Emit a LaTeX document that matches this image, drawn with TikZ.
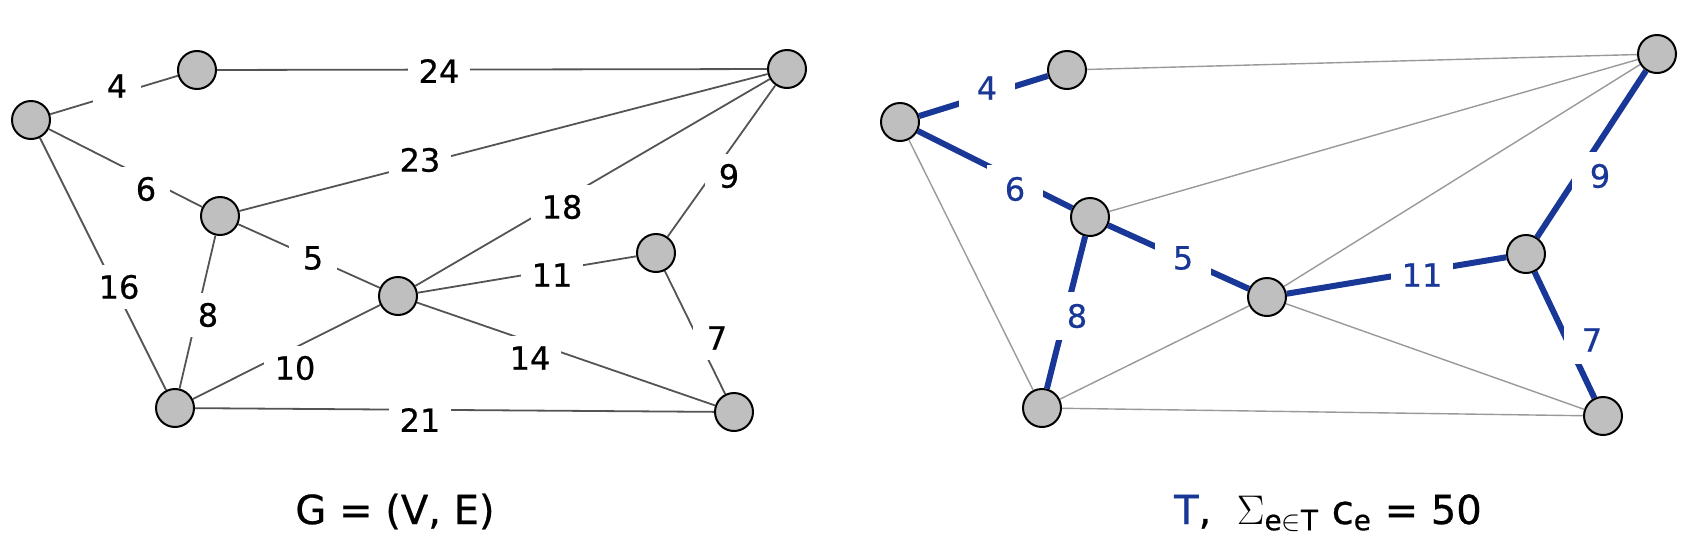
\documentclass[tikz,border=0pt]{standalone}
\usepackage{amsmath}
\usepackage{amssymb}
\usepackage{fontspec}
\setmainfont{DejaVu Sans}[FakeBold=0.6]
\definecolor{treeblue}{RGB}{25,55,150}
\tikzset{
	vertex/.style={circle, draw=black, fill=black!25, line width=1pt, minimum size=19pt, inner sep=0pt},
	edge/.style={draw=black!67, line width=0.9pt},
	faint/.style={draw=black!40, line width=0.7pt},
	treeedge/.style={draw=treeblue, line width=3pt},
	weight/.style={fill=white, inner xsep=5.5pt, inner ysep=5pt, minimum width=24pt, font=\fontsize{16}{19}\selectfont},
	tweight/.style={weight, text=treeblue, inner ysep=6pt, minimum width=28pt},
	caption/.style={anchor=base, inner sep=0pt, font=\fontsize{20}{24}\selectfont},
}

\begin{document}
\begin{tikzpicture}[x=0.5pt,y=-0.5pt]
	\useasboundingbox (0,0) rectangle (1708,552);
	% graph G
	\node[vertex] (a) at (31,120) {};
	\node[vertex] (b) at (197,70) {};
	\node[vertex] (c) at (787,69) {};
	\node[vertex] (d) at (220,216) {};
	\node[vertex] (e) at (398,296) {};
	\node[vertex] (f) at (656,253) {};
	\node[vertex] (g) at (175,408) {};
	\node[vertex] (h) at (734,412) {};
	\draw[edge] (a) -- (b);
	\draw[edge] (b) -- (c);
	\draw[edge] (a) -- (d);
	\draw[edge] (a) -- (g);
	\draw[edge] (d) -- (c);
	\draw[edge] (d) -- (e);
	\draw[edge] (d) -- (g);
	\draw[edge] (e) -- (c);
	\draw[edge] (c) -- (f);
	\draw[edge] (e) -- (f);
	\draw[edge] (f) -- (h);
	\draw[edge] (g) -- (e);
	\draw[edge] (e) -- (h);
	\draw[edge] (g) -- (h);
	% weights
	\node[weight] (w4) at (117,86) {4};
	\node[weight] (w24) at (439,71) {24};
	\node[weight] (w6) at (146,189) {6};
	\node[weight] (w16) at (119,287) {16};
	\node[weight] (w23) at (420,160) {23};
	\node[weight] (w5) at (313,258) {5};
	\node[weight] (w8) at (208,315) {8};
	\node[weight] (w18) at (562,207) {18};
	\node[weight] (w9) at (729,176) {9};
	\node[weight] (w11) at (552,275) {11};
	\node[weight] (w7) at (717,338) {7};
	\node[weight] (w10) at (295,368) {10};
	\node[weight] (w14) at (530,358) {14};
	\node[weight] (w21) at (420,420) {21};
	\node[caption] (gcap) at (395,524) {G = (V, E)};
	% spanning tree T
	\node[vertex] (a2) at (900,122) {};
	\node[vertex] (b2) at (1067,70) {};
	\node[vertex] (c2) at (1657,54) {};
	\node[vertex] (d2) at (1090,217) {};
	\node[vertex] (e2) at (1267,297) {};
	\node[vertex] (f2) at (1526,254) {};
	\node[vertex] (g2) at (1042,408) {};
	\node[vertex] (h2) at (1603,416) {};
	\draw[faint] (b2) -- (c2);
	\draw[faint] (d2) -- (c2);
	\draw[faint] (e2) -- (c2);
	\draw[faint] (a2) -- (g2);
	\draw[faint] (g2) -- (e2);
	\draw[faint] (e2) -- (h2);
	\draw[faint] (g2) -- (h2);
	\draw[treeedge] (a2) -- (b2);
	\draw[treeedge] (a2) -- (d2);
	\draw[treeedge] (d2) -- (e2);
	\draw[treeedge] (d2) -- (g2);
	\draw[treeedge] (e2) -- (f2);
	\draw[treeedge] (c2) -- (f2);
	\draw[treeedge] (f2) -- (h2);
	\node[tweight] (t4) at (987,88) {4};
	\node[tweight] (t6) at (1015,189) {6};
	\node[tweight] (t5) at (1183,258) {5};
	\node[tweight] (t8) at (1077,316) {8};
	\node[tweight] (t11) at (1422,275) {11};
	\node[tweight] (t9) at (1600,176) {9};
	\node[tweight] (t7) at (1592,340) {7};
	\node[caption] (tcap) at (1328,524) {\textcolor{treeblue}{T}, \ $\Sigma_{\text{e}\in\text{T}}$ c$_{\text{e}}$ = 50};
\end{tikzpicture}
\end{document}
